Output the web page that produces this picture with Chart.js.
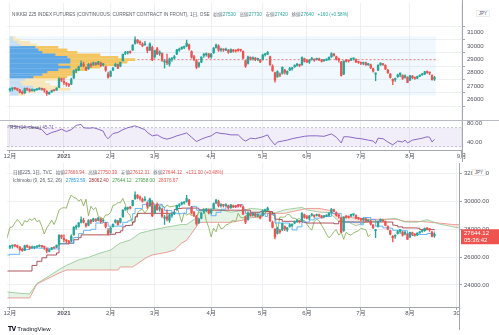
<!DOCTYPE html>
<html>
<head>
<meta charset="utf-8">
<script src="https://cdn.jsdelivr.net/npm/chart.js@4.4.1/dist/chart.umd.min.js"></script>
<style>
  html, body { margin: 0; padding: 0; background: #fff; }
  body { width: 499px; height: 335px; position: relative; overflow: hidden;
         font-family: "Liberation Sans", "Noto Sans CJK JP", sans-serif; }
  .pane { position: absolute; left: 0; width: 499px; }
  .t { position: absolute; white-space: nowrap; font-size: 9px; line-height: 9px;
       transform: scale(0.52); transform-origin: 0 50%; color: #5d606b; }
  .t .g { margin-left: 7px; color: #787b86; }
  .up { color: #26a69a; }
  .dn { color: #ef5350; }
  .jpy { position: absolute; width: 26px; height: 12px; border: 1px solid #c9ccd3; border-radius: 3px;
         background: #fff; font-size: 9px; line-height: 12px; text-align: center; color: #50535e;
         transform: scale(0.5); transform-origin: 0 0; }
  .line { position: absolute; background: #a3a6af; }
</style>
</head>
<body>
<div class="pane" style="top:0;height:121px"><canvas id="price"></canvas></div>
<div class="pane" style="top:119px;height:42px"><canvas id="rsi"></canvas></div>
<div class="pane" style="top:160px;height:165px"><canvas id="ichi"></canvas></div>

<div class="line" style="left:0;top:119.5px;width:499px;height:1.5px;background:#b8bbc4"></div>
<div class="line" style="left:462px;top:0;width:1px;height:3px"></div>
<div class="line" style="left:462px;top:150px;width:1px;height:12px"></div>
<div class="line" style="left:459px;top:307px;width:1px;height:23px"></div>

<div class="t" id="topHead" style="left:12px;top:9.5px"></div>
<div class="t" id="rsiHead" style="left:10px;top:122.5px"></div>
<div class="t" id="ichiHead1" style="left:13px;top:167.5px"></div>
<div class="t" id="ichiHead2" style="left:13px;top:176px"></div>
<div class="jpy" style="left:476px;top:10px">JPY</div>
<div class="jpy" style="left:472px;top:169px">JPY</div>
<div class="t" style="left:8px;top:323.5px;font-size:11px;line-height:11px;transform:scale(0.55);color:#131722">
  <b style="font-family:'DejaVu Sans';letter-spacing:-1px">TV</b> TradingView</div>

<script>
// trading-day index 0 = 1 Dec 2020
const monthIdx = [0, 22, 41, 59, 82, 103, 121, 143, 163, 184];
const monthLbl = ['12月', '2021', '2月', '3月', '4月', '5月', '6月', '7月', '8月', '9月'];
const monthIdxIchi = [0, 22, 41, 59, 82, 103, 121, 143, 163, 182];
const monthLblIchi = ['12月', '2021', '2月', '3月', '4月', '5月', '6月', '7月', '8月', '30'];
const priceTicks = [26000, 27000, 28000, 29000, 30000, 31000];
const ichiTicks = [24000, 26000, 28000, 30000, 32000];
const rsiTicks = [40, 80];

const opens = [
  26700, 26790, 26820, 26800, 26720, 26560, 26480, 26800, 26740, 26660, 26680, 26720, 26780, 26800, 26740, 26600, 26420, 26560, 26680, 26700, 26900, 27560,
  27350, 27200, 27100, 27150, 27600, 28150, 28200, 28500, 28650, 28400, 28300, 28650, 28600, 28700, 28650, 28750, 28600, 28450, 27900,
  27750, 28200, 28500, 28600, 28500, 28900, 29450, 29500, 29550, 29700, 30200, 30450, 30300, 30150, 30100, 29900, 29700, 29900,
  29200, 29800, 29450, 29450, 28800, 28900, 28650, 29000, 29100, 29400, 29700, 29800, 29900, 30000, 30100, 29600, 29200, 28900, 28500, 28800, 29300, 29350, 29400,
  29200, 29500, 29900, 30000, 29700, 29750, 29700, 29700, 29550, 29700, 29650, 29700, 29700, 29600, 28900, 28700, 29150, 29050, 29100, 29000, 28950,
  29000, 29350, 29400, 29200, 28500, 28000, 27700, 27900, 27950, 28200, 27950, 28200, 28300, 28450, 28550, 28600, 28600, 29050,
  28900, 28800, 29000, 29000, 29000, 29050, 28950, 28900, 28950, 29000, 29200, 29400, 29200, 29050, 28800, 27900, 28900, 28900, 28950, 29050, 29000, 28800,
  28750, 28700, 28750, 28600, 28600, 28300, 27900, 28200, 28600, 28650, 28550, 28200, 27900, 27500, 27500, 27700, 27850, 27800, 27650, 27650,
  27450, 27750, 27650, 27600, 27750, 27850, 27900, 28050, 28000, 27800, 27530
];
const highs = [
  26850, 26880, 26900, 26860, 26760, 26650, 26860, 26880, 26800, 26790, 26760, 26820, 26880, 26850, 26790, 26660, 26580, 26700, 26720, 26880, 27620, 27600,
  27600, 27260, 27200, 27600, 28200, 28300, 28500, 28900, 28800, 28450, 28700, 28720, 28800, 28780, 28850, 28800, 28700, 28500, 28050,
  28150, 28400, 28700, 28650, 28800, 29400, 29600, 29600, 29650, 30100, 30700, 30500, 30400, 30250, 30350, 29950, 30250, 30000,
  29700, 29900, 29650, 29500, 29000, 29400, 29100, 29150, 29300, 29750, 29850, 29950, 30000, 30450, 30150, 29650, 29300, 29000, 28800, 29200, 29450, 29500, 29450,
  29450, 29900, 30150, 30100, 29850, 29800, 29850, 29750, 29800, 29750, 29700, 29800, 29750, 29650, 28950, 29250, 29200, 29200, 29150, 29100, 29000,
  29400, 29450, 29600, 29250, 28600, 28050, 28150, 28000, 28450, 28250, 28150, 28400, 28400, 28600, 28700, 28650, 29200, 29100,
  29000, 29000, 29150, 29050, 29100, 29100, 29000, 29000, 29050, 29200, 29500, 29450, 29250, 29100, 28850, 28900, 29000, 28950, 29100, 29100, 29050, 28850,
  28800, 28800, 28800, 28700, 28650, 28350, 28000, 28600, 28750, 28700, 28600, 28250, 27950, 27550, 27600, 27900, 28000, 27850, 27850, 27700,
  27800, 27800, 27700, 27750, 27850, 27950, 28100, 28150, 28050, 27850, 27730
];
const lows = [
  26600, 26640, 26730, 26660, 26480, 26400, 26460, 26680, 26560, 26620, 26600, 26690, 26740, 26700, 26550, 26300, 26380, 26530, 26620, 26680, 26880, 27330,
  27100, 27000, 26950, 27100, 27580, 28000, 28150, 28450, 28450, 28150, 28250, 28400, 28550, 28550, 28600, 28450, 28500, 28100, 27600,
  27700, 28150, 28450, 28300, 28450, 28880, 29350, 29400, 29450, 29680, 30150, 30200, 30100, 29950, 30050, 29500, 29650, 28900,
  29100, 29350, 29300, 28850, 28350, 28600, 28500, 28850, 29050, 29350, 29600, 29750, 29800, 29950, 29700, 29100, 28900, 28300, 28400, 28750, 29150, 29250, 29100,
  29100, 29450, 29850, 29600, 29600, 29600, 29650, 29450, 29500, 29550, 29550, 29600, 29600, 29050, 28400, 28650, 28950, 28950, 28900, 28900, 28750,
  28950, 29250, 29350, 28550, 28100, 27300, 27650, 27700, 27900, 27900, 27850, 28150, 28200, 28400, 28500, 28450, 28550, 28800,
  28750, 28700, 28950, 28850, 28950, 28900, 28800, 28850, 28900, 28950, 29150, 29250, 28950, 28800, 27750, 27850, 28800, 28800, 28900, 28950, 28750, 28700,
  28600, 28600, 28550, 28550, 28300, 28050, 27400, 28150, 28550, 28550, 28250, 27950, 27600, 27100, 27350, 27650, 27700, 27500, 27600, 27250,
  27400, 27550, 27500, 27550, 27700, 27800, 27850, 27950, 27850, 27450, 27420
];
const closes = [
  26790, 26800, 26810, 26750, 26550, 26470, 26820, 26760, 26650, 26730, 26690, 26760, 26810, 26760, 26710, 26440, 26520, 26670, 26660, 26850, 27570, 27440,
  27260, 27160, 27060, 27490, 28140, 28160, 28460, 28700, 28520, 28240, 28630, 28520, 28760, 28630, 28820, 28550, 28640, 28200, 27660,
  28090, 28360, 28650, 28340, 28780, 29390, 29510, 29560, 29520, 30080, 30470, 30290, 30240, 30020, 30160, 29670, 30170, 28970,
  29660, 29410, 29560, 28930, 28860, 28740, 29030, 29040, 29210, 29720, 29770, 29920, 29910, 30220, 29790, 29170, 29000, 28410, 28730, 29180, 29380, 29430, 29180,
  29390, 29850, 30090, 29700, 29730, 29710, 29770, 29540, 29750, 29620, 29640, 29680, 29690, 29100, 28510, 29190, 29020, 29130, 28990, 29050, 28810,
  29330, 29360, 29520, 28610, 28150, 27450, 28080, 27820, 28410, 28040, 28100, 28320, 28360, 28550, 28640, 28550, 29150, 28860,
  28810, 28950, 29060, 28940, 29020, 28960, 28860, 28960, 28950, 29160, 29440, 29290, 29020, 28960, 27800, 28880, 28870, 28880, 29070, 29050, 28810, 28790,
  28710, 28780, 28600, 28640, 28370, 28120, 27940, 28570, 28720, 28610, 28280, 28000, 27650, 27390, 27550, 27830, 27970, 27580, 27780, 27280,
  27780, 27640, 27580, 27730, 27820, 27890, 28070, 28020, 27980, 27480, 27640
];

// visible range volume profile (rows bottom -> top)
const vpLevels = [26390, 26575, 26760, 26945, 27130, 27315, 27500, 27685, 27870, 28055, 28240, 28425,
                  28610, 28795, 28980, 29165, 29350, 29535, 29720, 29905, 30090, 30275, 30460, 30645];
const vpUp   = [8, 17, 35, 23, 12, 10, 15, 23, 32, 37, 48, 60, 48, 60, 60, 57, 45, 32, 28, 25, 10, 7, 3, 2];
const vpDown = [7, 8, 25, 27, 28, 25, 35, 34, 30, 30, 29, 30, 62, 57, 65, 51, 45, 35, 29, 23, 17, 13, 7, 3];
const valueArea = [27600, 29950];
const vpRange = [0, 173.5];
const vpPrice = [26290, 30740];

// RSI (14, close)
const rsi = [[-1, 74], [2, 73], [5, 71], [8, 72], [11, 69], [13, 66], [15, 55], [17, 60], [19, 63], [21, 67], [23, 62],
  [25, 66], [27, 75], [29, 77], [30, 70], [32, 69], [34, 70], [36, 67], [38, 63], [39, 52], [40, 47], [42, 58], [44, 60],
  [46, 66], [48, 70], [51, 74], [53, 70], [55, 66], [56, 60], [58, 53], [60, 55], [62, 49], [64, 46], [66, 49], [68, 53],
  [70, 56], [72, 59], [74, 50], [76, 41], [78, 46], [80, 50], [82, 53], [84, 60], [86, 58], [88, 57], [90, 55], [93, 55],
  [95, 45], [96, 42], [98, 48], [100, 47], [103, 51], [105, 55], [106, 46], [108, 34], [109, 40], [111, 42], [113, 44],
  [115, 47], [118, 50], [120, 52], [122, 53], [125, 53], [128, 52], [131, 57], [133, 50], [135, 38], [136, 51], [138, 51],
  [141, 48], [143, 47], [146, 44], [148, 42], [149, 37], [150, 48], [152, 47], [154, 40], [156, 34], [158, 42], [160, 40],
  [161, 44], [162, 38], [164, 44], [166, 46], [168, 48], [170, 51], [171, 50], [172, 40], [173, 45.71]];
const rsiBand = [30, 70];

// Ichimoku (9, 26, 52, 26)
const tenkan = [[-1, 26150], [0, 26200], [4, 26550], [8, 26650], [12, 26640], [16, 26590], [20, 26960], [24, 27000],
  [26, 27410], [28, 27690], [30, 27925], [33, 28000], [35, 28450], [38, 28500], [40, 28225], [43, 28225], [46, 28500],
  [48, 28600], [49, 28675], [50, 29125], [51, 29500], [54, 29790], [56, 30050], [58, 29800], [62, 29600], [63, 29350],
  [66, 29175], [68, 29125], [70, 29150], [72, 29475], [74, 29650], [76, 29375], [80, 29375], [82, 28975], [84, 29225],
  [86, 29450], [88, 29625], [93, 29775], [95, 29450], [96, 29125], [100, 29100], [104, 28925], [105, 29125], [106, 29075],
  [108, 28450], [112, 28450], [114, 28275], [115, 27950], [117, 28175], [119, 28525], [121, 28525], [122, 28675],
  [124, 28800], [126, 28825], [128, 28925], [131, 29150], [134, 29150], [135, 28525], [140, 28500], [143, 28325],
  [144, 28850], [147, 28700], [149, 28225], [152, 28100], [155, 28075], [156, 27925], [160, 27900], [162, 27675],
  [164, 27550], [165, 27625], [167, 27625], [170, 27700], [173, 27850]];
const kijun = [[-1, 25000], [7, 25000], [9, 25400], [11, 25700], [13, 25950], [15, 26150], [19, 26300], [20, 26960],
  [24, 27000], [26, 27250], [28, 27400], [29, 27600], [41, 27640], [43, 27760], [45, 27890], [46, 28175], [47, 28275],
  [49, 28300], [50, 28525], [51, 28900], [52, 29140], [53, 29150], [66, 29200], [67, 29425], [68, 29500], [70, 29525],
  [77, 29400], [78, 29375], [98, 29225], [102, 29275], [107, 29125], [108, 28725], [110, 28700], [111, 28575],
  [116, 28550], [119, 28525], [120, 28475], [121, 28450], [132, 28400], [134, 28575], [135, 28525], [156, 28300],
  [157, 28275], [158, 28175], [160, 28100], [166, 28075], [167, 27975], [173, 27950]];
const cloudIdx = [-1, 4, 8, 11, 16, 20, 23, 28, 32, 36, 41, 44, 45, 49, 50, 53, 56, 58, 64, 67, 70, 72, 76, 77, 80,
  84, 90, 95, 98, 102, 103, 108, 112, 119, 121, 126, 130, 134, 138, 141, 145, 150, 157, 161, 166, 170, 175, 180, 186];
const spanA = [23490, 23400, 23350, 24100, 24650, 25100, 25400, 25800, 25980, 26250, 26510, 26900, 27010, 27230, 27350,
  27730, 27850, 27950, 28165, 28250, 28350, 28340, 28825, 29200, 29470, 29475, 29230, 29350, 29500, 29450, 29400, 29175,
  29410, 29575, 29400, 29240, 29200, 28590, 28510, 28250, 28525, 28600, 28800, 28525, 28510, 28690, 28375, 28200, 28000];
const spanB = [23060, 23060, 23060, 24065, 24500, 24850, 25070, 25070, 25070, 25070, 25070, 25070, 25290, 25290, 25290,
  25650, 26000, 26150, 26350, 26510, 27010, 27200, 28200, 28500, 28500, 28500, 28500, 28660, 28825, 28900, 29140, 29150,
  29150, 29425, 29500, 29500, 29375, 28875, 28875, 28800, 28725, 28725, 28725, 28575, 28575, 28525, 28450, 28350, 28300];
const chikouShift = 26;

// TVC cash index header values
const tvcOHLC = [27666.94, 27750.39, 27612.31, 27644.12];
const tvcChange = [131.00, 0.48];
const ichiNow = [27853.59, 28062.40, 27644.12, 27958.00, 28376.67];
const countdown = '05:36:42';

const FAM = "'Liberation Sans', 'Noto Sans CJK JP', sans-serif";
const UP = '#26a69a', DOWN = '#ef5350', GRID = '#eef0f4', AXIS = '#a3a6af';
Chart.defaults.font.family = FAM;
Chart.defaults.font.size = 6;
Chart.defaults.color = '#50535e';
Chart.defaults.animation = false;
Chart.defaults.maintainAspectRatio = false;
Chart.defaults.plugins.legend.display = false;
Chart.defaults.plugins.tooltip.enabled = false;
Chart.defaults.elements.point.radius = 0;
Chart.defaults.elements.line.borderWidth = 1;

const last = closes.length - 1;
const barIdx = closes.map((c, i) => i);
const candleColor = closes.map((c, i) => (c >= opens[i] ? UP : DOWN));

function candleSets() {
  return [
    { type: 'bar', data: barIdx.map(i => ({ x: i, y: [opens[i], closes[i]] })), backgroundColor: candleColor,
      barThickness: 1.7, grouped: false, minBarLength: 1, order: 1 },
    { type: 'bar', data: barIdx.map(i => ({ x: i, y: [lows[i], highs[i]] })), backgroundColor: candleColor,
      barThickness: 0.7, grouped: false, order: 2 }
  ];
}

function timeScale(tickIdx, tickLbl, max, height, showLabels) {
  return {
    type: 'linear', min: -1.2, max: max, offset: false,
    grid: { color: GRID, offset: false, drawTicks: showLabels, tickLength: 3, tickColor: AXIS },
    border: { display: showLabels, color: AXIS },
    ticks: {
      display: showLabels, autoSkip: false, maxRotation: 0, minRotation: 0, padding: 0,
      callback: v => tickLbl[tickIdx.indexOf(v)],
      font: c => ({ family: FAM, size: 6, weight: c.tick && c.tick.label === '2021' ? 'bold' : 'normal' })
    },
    afterBuildTicks: s => { s.ticks = tickIdx.map(v => ({ value: v })); },
    afterFit: s => { s.height = height; s.paddingLeft = 0; s.paddingRight = 0; }
  };
}

function valueScale(min, max, tickVals, width, fmt) {
  return {
    type: 'linear', position: 'right', min: min, max: max,
    grid: { color: GRID, tickLength: 3, tickColor: AXIS },
    border: { color: AXIS },
    ticks: { padding: 2, callback: fmt },
    afterBuildTicks: s => { s.ticks = tickVals.map(v => ({ value: v })); },
    afterFit: s => { s.width = width; s.paddingTop = 0; s.paddingBottom = 0; }
  };
}

// ---- top: futures price + volume profile
const inVA = p => p >= valueArea[0] && p <= valueArea[1];
const pocRow = vpLevels.reduce((b, p, k) => (vpUp[k] + vpDown[k] > vpUp[b] + vpDown[b] ? k : b), 0);

const vpBoxPlugin = {
  id: 'vpBox',
  beforeDatasetsDraw(chart) {
    const { ctx, scales: { x, y } } = chart;
    const l = x.getPixelForValue(vpRange[0]), r = x.getPixelForValue(vpRange[1]);
    const t = y.getPixelForValue(vpPrice[1]), b = y.getPixelForValue(vpPrice[0]);
    ctx.save();
    ctx.fillStyle = 'rgba(33,150,243,0.06)';
    ctx.fillRect(l, t, r - l, b - t);
    ctx.restore();
  }
};

new Chart(document.getElementById('price'), {
  type: 'line',
  data: {
    datasets: [
      ...candleSets(),
      { type: 'line', data: [{ x: 52, y: vpLevels[pocRow] }, { x: vpRange[1], y: vpLevels[pocRow] }],
        borderColor: '#ef5350', borderWidth: 0.8, borderDash: [2, 2], order: 4 },
      { type: 'bar', indexAxis: 'y', xAxisID: 'xv', yAxisID: 'y',
        data: vpLevels.map((p, k) => ({ y: p, x: [0, vpUp[k]] })),
        backgroundColor: vpLevels.map(p => (inVA(p) ? '#5ea7e6' : '#c6def3')),
        barThickness: 2.0, grouped: false, order: 6 },
      { type: 'bar', indexAxis: 'y', xAxisID: 'xv', yAxisID: 'y',
        data: vpLevels.map((p, k) => ({ y: p, x: [vpUp[k], vpUp[k] + vpDown[k]] })),
        backgroundColor: vpLevels.map(p => (inVA(p) ? '#f4c662' : '#f8e6b9')),
        barThickness: 2.0, grouped: false, order: 6 }
    ]
  },
  options: {
    layout: { padding: { left: 7, top: 3, right: 0, bottom: 1 } },
    scales: {
      x: timeScale(monthIdx, monthLbl, 184.2, 0, false),
      xv: { type: 'linear', axis: 'x', display: false, min: -3, max: 452, offset: false },
      y: valueScale(25190, 32500, priceTicks, 37, v => String(v))
    }
  },
  plugins: [vpBoxPlugin]
});

// ---- RSI pane
new Chart(document.getElementById('rsi'), {
  type: 'line',
  data: {
    datasets: [
      { data: rsi.map(([x, y]) => ({ x, y })), borderColor: '#7e57c2', borderWidth: 0.9, order: 1 },
      { data: [{ x: -1.2, y: rsiBand[1] }, { x: 184.2, y: rsiBand[1] }], borderColor: '#9c9fa8', borderWidth: 0.6,
        borderDash: [2, 2], fill: '+1', backgroundColor: 'rgba(126,87,194,0.1)', order: 2 },
      { data: [{ x: -1.2, y: rsiBand[0] }, { x: 184.2, y: rsiBand[0] }], borderColor: '#9c9fa8', borderWidth: 0.6,
        borderDash: [2, 2], order: 2 }
    ]
  },
  options: {
    layout: { padding: { left: 7, top: 2, right: 0, bottom: 0 } },
    scales: {
      x: timeScale(monthIdx, monthLbl, 184.2, 11, true),
      y: Object.assign(valueScale(23.2, 84.2, rsiTicks, 37, v => v.toFixed(2)), { grid: { display: false, tickLength: 3, tickColor: AXIS } })
    }
  }
});

// ---- bottom: TVC index with Ichimoku
const lastLabelPlugin = {
  id: 'lastLabel',
  afterDraw(chart) {
    const { ctx, chartArea, scales: { y } } = chart;
    const py = y.getPixelForValue(tvcOHLC[3]);
    const x0 = chartArea.right + 2;
    ctx.save();
    ctx.fillStyle = '#ef5350';
    ctx.fillRect(x0, py - 5, chart.width - x0, 15);
    ctx.fillStyle = '#fff';
    ctx.font = '6px ' + FAM;
    ctx.textBaseline = 'middle';
    ctx.fillText(tvcOHLC[3].toFixed(2), x0 + 3, py - 0.5);
    ctx.fillText(countdown, x0 + 3, py + 6);
    ctx.restore();
  }
};

new Chart(document.getElementById('ichi'), {
  type: 'line',
  data: {
    datasets: [
      ...candleSets(),
      { data: tenkan.map(([x, y]) => ({ x, y })), stepped: true, borderColor: '#42a5f5', borderWidth: 0.8, order: 3 },
      { data: kijun.map(([x, y]) => ({ x, y })), stepped: true, borderColor: '#9b2c35', borderWidth: 0.8, order: 4 },
      { data: closes.map((c, i) => ({ x: i - chikouShift, y: c })), borderColor: '#7fa84a', borderWidth: 0.8, order: 5 },
      { data: cloudIdx.map((x, k) => ({ x, y: spanA[k] })), borderColor: '#8fc58f', borderWidth: 0.8, order: 8,
        fill: { target: '+1', above: 'rgba(67,160,71,0.13)', below: 'rgba(244,67,54,0.13)' } },
      { data: cloudIdx.map((x, k) => ({ x, y: spanB[k] })), borderColor: '#ef8a84', borderWidth: 0.8, order: 9 }
    ]
  },
  options: {
    layout: { padding: { left: 7, top: 3, right: 0, bottom: 0 } },
    scales: {
      x: timeScale(monthIdxIchi, monthLblIchi, 183, 18, true),
      y: valueScale(22410, 32770, ichiTicks, 40, v => v.toFixed(2))
    }
  },
  plugins: [lastLabelPlugin]
});

// ---- header texts
const chg = closes[last] - closes[last - 1];
const chgPct = (chg / closes[last - 1] * 100).toFixed(2);
const cls = chg >= 0 ? 'up' : 'dn';
document.getElementById('topHead').innerHTML =
  'NIKKEI 225 INDEX FUTURES (CONTINUOUS: CURRENT CONTRACT IN FRONT), 1日, OSE' +
  `<span class="g">始値</span><span class="${cls}">${opens[last]}</span>` +
  `<span class="g">高値</span><span class="${cls}">${highs[last]}</span>` +
  `<span class="g">安値</span><span class="${cls}">${lows[last]}</span>` +
  `<span class="g">終値</span><span class="${cls}">${closes[last]}</span>` +
  `<span class="${cls}" style="margin-left:7px">${chg >= 0 ? '+' : ''}${chg} (${chg >= 0 ? '+' : ''}${chgPct}%)</span>`;
document.getElementById('rsiHead').innerHTML =
  `RSI (14, close) <span style="color:#7e57c2">${rsi[rsi.length - 1][1].toFixed(2)}</span>`;
document.getElementById('ichiHead1').innerHTML =
  '日経225, 1日, TVC' +
  `<span class="g">始値</span><span class="dn">${tvcOHLC[0].toFixed(2)}</span>` +
  `<span class="g">高値</span><span class="dn">${tvcOHLC[1].toFixed(2)}</span>` +
  `<span class="g">安値</span><span class="dn">${tvcOHLC[2].toFixed(2)}</span>` +
  `<span class="g">終値</span><span class="dn">${tvcOHLC[3].toFixed(2)}</span>` +
  `<span class="dn" style="margin-left:7px">+${tvcChange[0].toFixed(2)} (+${tvcChange[1].toFixed(2)}%)</span>`;
const ichiColors = ['#2196f3', '#9b2c35', '#43a047', '#43a047', '#ef5350'];
document.getElementById('ichiHead2').innerHTML =
  'Ichimoku (9, 26, 52, 26)' +
  ichiNow.map((v, k) => `<span style="margin-left:7px;color:${ichiColors[k]}">${v.toFixed(2)}</span>`).join('');
</script>
</body>
</html>
